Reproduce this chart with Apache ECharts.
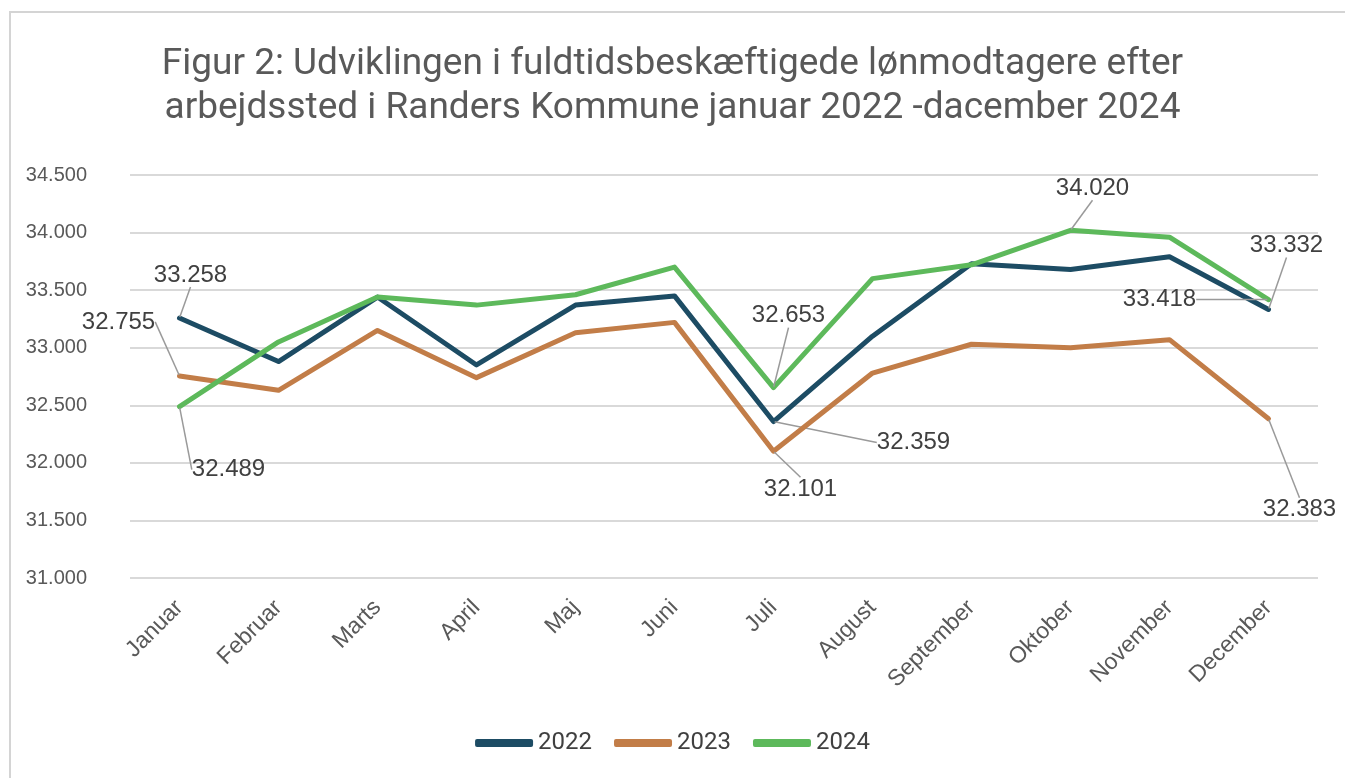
<!DOCTYPE html>
<html>
<head>
<meta charset="utf-8">
<script src="https://cdn.jsdelivr.net/npm/echarts@6/dist/echarts.min.js"></script>
<style>
  html, body { margin: 0; padding: 0; background: #fff; }
  #chart { width: 1345px; height: 778px; }
</style>
</head>
<body>
<div id="chart"></div>
<script>
const months = ['Januar','Februar','Marts','April','Maj','Juni','Juli','August','September','Oktober','November','December'];
const years = ['2022','2023','2024'];
const values2022 = [33258, 32880, 33440, 32850, 33370, 33450, 32359, 33100, 33730, 33680, 33790, 33332];
const values2023 = [32755, 32630, 33150, 32740, 33130, 33220, 32101, 32780, 33030, 33000, 33070, 32383];
const values2024 = [32489, 33050, 33440, 33370, 33460, 33700, 32653, 33600, 33720, 34020, 33960, 33418];
const yTicks = { min: 31000, max: 34500, interval: 500 };
const colors = ['#1d4c64', '#c27d48', '#5db95b'];

// labelled points per series: dataIndex -> label offset from point (dx, dy)
const labelOffsets = [
  { 0: [11, -43], 6: [140, 21], 11: [18, -64] },
  { 0: [-61, -54], 6: [27, 38], 11: [31, 91] },
  { 0: [49, 63], 6: [15, -72], 9: [22, -42], 11: [-109, 0] }
];

function fmt(v) {
  const s = String(Math.round(v));
  return s.replace(/\B(?=(\d{3})+(?!\d))/g, '.');
}

const chart = echarts.init(document.getElementById('chart'));
const allValues = [values2022, values2023, values2024];

const series = years.map((name, si) => ({
  name: name,
  type: 'line',
  data: allValues[si].map((v, i) => labelOffsets[si][i] ? { value: v, label: { show: true } } : v),
  symbol: 'circle',
  symbolSize: 2,
  showSymbol: true,
  lineStyle: { width: 5, color: colors[si], cap: 'round', join: 'round' },
  itemStyle: { color: colors[si] },
  label: {
    show: false,
    position: 'inside',
    formatter: p => fmt(p.value),
    fontFamily: 'Liberation Sans, Arial, sans-serif',
    fontSize: 24,
    color: '#404040'
  },
  labelLine: { show: true, lineStyle: { color: '#9a9a9a', width: 1.5 } },
  labelLayout: function (params) {
    const off = labelOffsets[si][params.dataIndex];
    if (!off) return {};
    return { dx: off[0], dy: off[1] };
  },
  z: 2 + si,
  emphasis: { disabled: true }
}));

chart.setOption({
  animation: false,
  backgroundColor: '#fff',
  color: colors,
  graphic: [{
    type: 'rect',
    shape: { x: 10, y: 12, width: 1400, height: 800 },
    style: { fill: 'none', stroke: '#d4d4d4', lineWidth: 2 },
    silent: true
  }],
  title: {
    text: 'Figur 2: Udviklingen i fuldtidsbeskæftigede lønmodtagere efter\narbejdssted i Randers Kommune januar 2022 -dacember 2024',
    left: 'center',
    top: 38,
    textStyle: {
      fontFamily: 'Roboto, sans-serif',
      fontSize: 37,
      fontWeight: 'normal',
      color: '#595959',
      lineHeight: 44
    }
  },
  legend: {
    bottom: 18,
    left: 'center',
    icon: 'roundRect',
    itemWidth: 58,
    itemHeight: 8,
    itemGap: 22,
    textStyle: {
      fontFamily: 'Roboto, sans-serif',
      fontSize: 24,
      color: '#404040'
    },
    data: years
  },
  grid: { left: 130, right: 27, top: 175, bottom: 200, containLabel: false },
  xAxis: {
    type: 'category',
    data: months,
    boundaryGap: true,
    axisLine: { show: false },
    axisTick: { show: false },
    axisLabel: {
      rotate: 45,
      margin: 26,
      fontFamily: 'Liberation Sans, Arial, sans-serif',
      fontSize: 23,
      color: '#595959'
    },
    splitLine: { show: false }
  },
  yAxis: {
    type: 'value',
    min: yTicks.min,
    max: yTicks.max,
    interval: yTicks.interval,
    axisLine: { show: false },
    axisTick: { show: false },
    axisLabel: {
      formatter: v => fmt(v),
      margin: 43,
      fontFamily: 'Liberation Sans, Arial, sans-serif',
      fontSize: 20,
      color: '#595959'
    },
    splitLine: { lineStyle: { color: '#d9d9d9', width: 2 } }
  },
  series: series
});
</script>
</body>
</html>
